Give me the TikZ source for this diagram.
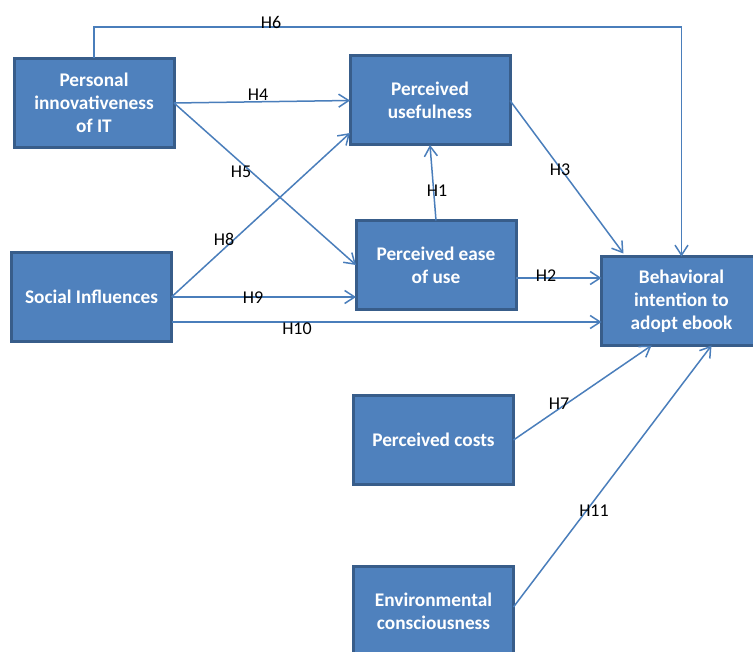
\documentclass[tikz,border=0pt]{standalone}
\usepackage{fontspec}
\setmainfont{Carlito}
\usetikzlibrary{arrows.meta}
\definecolor{boxfill}{HTML}{4F81BD}
\definecolor{boxline}{HTML}{385D8A}
\definecolor{arrowcol}{HTML}{4A7EBB}
\begin{document}
\begin{tikzpicture}[x=1pt,y=-1pt,
  cbox/.style={draw=boxline,fill=boxfill,line width=3pt,minimum width=160pt,minimum height=89pt,
    inner sep=0pt,outer sep=0pt,align=center,text=white,
    font=\fontsize{19.3}{23}\selectfont\bfseries},
  conn/.style={draw=arrowcol,line width=1.5pt,-{Straight Barb[length=10pt,width=13pt,line width=1.5pt]}},
  hlab/.style={inner sep=0pt,font=\fontsize{18}{20}\selectfont,text=black}]
\useasboundingbox (0,0) rectangle (753,652);
\fill[white] (0,0) rectangle (753,652);
% boxes
\node[cbox] (PI) at (94,103) {Personal\\innovativeness\\of IT};
\node[cbox] (PU) at (430,100.5) {Perceived\\usefulness};
\node[cbox] (PEOU) at (436,265) {Perceived ease\\of use};
\node[cbox] (BI) at (681.5,301) {Behavioral\\intention to\\adopt ebook};
\node[cbox] (SI) at (91.5,297) {Social Influences};
\node[cbox] (PC) at (433.5,440) {Perceived costs};
\node[cbox] (EC) at (433.5,611) {Environmental\\consciousness};
% connector ends
\coordinate (h6a) at (94,27);
\coordinate (si2) at ([yshift=-25pt]SI.east);
\coordinate (pe2) at ([yshift=-13pt]PEOU.east);
% connectors
\draw[conn] (PI.north) -- (h6a) -| (BI.north);
\draw[conn] (PI.east) -- (PU.west);
\draw[conn] (PI.east) -- (PEOU.west);
\draw[conn] (SI.east) -- ([yshift=12pt]PU.south west);
\draw[conn] (SI.east) -- (PEOU.west |- SI.east);
\draw[conn] (si2) -- (BI.west |- si2);
\draw[conn] (PEOU.north) -- (PU.south);
\draw[conn] (PU.east) -- ([xshift=22pt,yshift=3pt]BI.north west);
\draw[conn] (pe2) -- (BI.west |- pe2);
\draw[conn] (PC.east) -- ([xshift=50pt]BI.south west);
\draw[conn] ([yshift=4pt]EC.east) -- ([xshift=110pt]BI.south west);
% labels
\node[hlab] (l6) at (271,22) {H6};
\node[hlab] (l4) at (258,95) {H4};
\node[hlab] (l5) at (241,172) {H5};
\node[hlab] (l8) at (224,239) {H8};
\node[hlab] (l9) at (253,298) {H9};
\node[hlab] (l10) at (297,329) {H10};
\node[hlab] (l1) at (437,191) {H1};
\node[hlab] (l3) at (560,170) {H3};
\node[hlab] (l2) at (546,276) {H2};
\node[hlab] (l7) at (559,404) {H7};
\node[hlab] (l11) at (594,511) {H11};
\end{tikzpicture}
\end{document}
